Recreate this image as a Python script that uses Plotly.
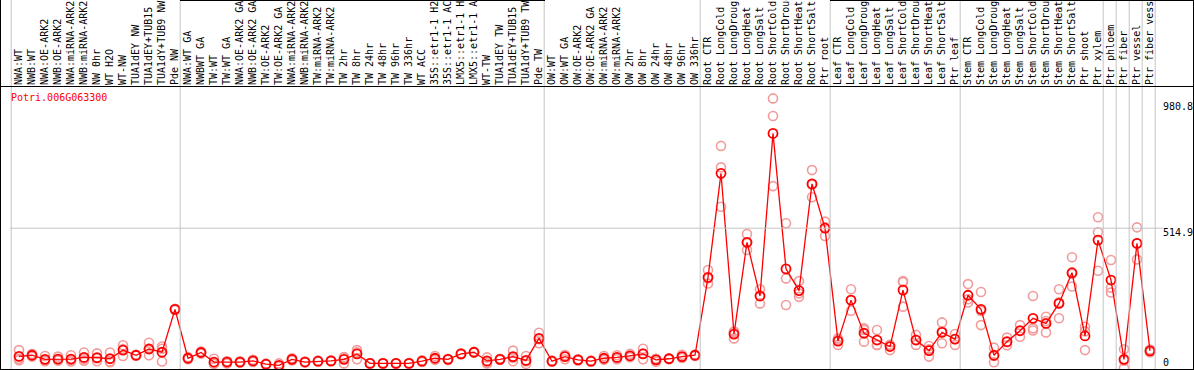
import plotly.graph_objects as go

gene = "Potri.006G063300"

labels = [
    # group 1
    "NWA:WT", "NWB:WT", "NWA:OE-ARK2", "NWB:OE-ARK2", "NWA:miRNA-ARK2", "NWB:miRNA-ARK2",
    "NW 0hr", "WT H2O", "WT-NW", "TUA1dEY NW", "TUA1dEY+TUB15 NW", "TUA1dY+TUB9 NW", "Pde NW",
    # group 2
    "NWA:WT GA", "NWBWT GA", "TW:WT", "TW:WT GA", "NWA:OE-ARK2 GA", "NWB:OE-ARK2 GA",
    "TW:OE-ARK2", "TW:OE-ARK2 GA", "NWA:miRNA-ARK2", "NWB:miRNA-ARK2", "TW:miRNA-ARK2", "TW:miRNA-ARK2",
    "TW 2hr", "TW 8hr", "TW 24hr", "TW 48hr", "TW 96hr", "TW 336hr", "WT ACC",
    "35S::etr1-1 H2O", "35S::etr1-1 ACC", "LMX5::etr1-1 H2O", "LMX5::etr1-1 ACC",
    "WT-TW", "TUA1dEY TW", "TUA1dEY+TUB15 TW", "TUA1dY+TUB9 TW", "Pde TW",
    # group 3
    "OW:WT", "OW:WT GA", "OW:OE-ARK2", "OW:OE-ARK2 GA", "OW:miRNA-ARK2", "OW:miRNA-ARK2",
    "OW 2hr", "OW 8hr", "OW 24hr", "OW 48hr", "OW 96hr", "OW 336hr",
    # group 4
    "Root CTR", "Root LongCold", "Root LongDrought", "Root LongHeat", "Root LongSalt",
    "Root ShortCold", "Root ShortDrought", "Root ShortHeat", "Root ShortSalt", "Ptr root",
    # group 5
    "Leaf CTR", "Leaf LongCold", "Leaf LongDrought", "Leaf LongHeat", "Leaf LongSalt",
    "Leaf ShortCold", "Leaf ShortDrought", "Leaf ShortHeat", "Leaf ShortSalt", "Ptr leaf",
    # group 6
    "Stem CTR", "Stem LongCold", "Stem LongDrought", "Stem LongHeat", "Stem LongSalt",
    "Stem ShortCold", "Stem ShortDrought", "Stem ShortHeat", "Stem ShortSalt", "Ptr shoot", "Ptr xylem",
    # singles
    "Ptr phloem", "Ptr fiber", "Ptr vessel", "Ptr fiber vessel",
]

group_sizes = [13, 28, 12, 10, 10, 11, 1, 1, 1, 1]

mean_vals = [
    43, 47, 32, 33, 33, 39, 38, 34, 66, 47, 70, 58, 216,
    36, 57, 22, 22, 22, 26, 14, 10, 32, 22, 25, 26, 32, 52, 17, 17, 17, 17, 25, 36, 32, 52, 58, 26, 32, 42, 28, 109,
    25, 42, 30, 25, 36, 39, 45, 52, 30, 34, 42, 47,
    334, 717, 125, 463, 265, 864, 365, 285, 678, 514.9,
    99, 250, 128, 103, 79, 287, 103, 64, 131, 106,
    268, 216, 47, 97, 137, 183, 164, 238, 351, 118, 471,
    324, 32, 459, 63,
]

rep1 = [
    66, 52, 44, 42, 47, 57, 54, 57, 84, 49, 93, 79, 218,
    40, 61, 34, 25, 25, 30, 16, 17, 36, 24, 27, 28, 40, 66, 18, 18, 18, 18, 28, 44, 34, 54, 60, 39, 34, 64, 44, 130,
    27, 48, 32, 27, 44, 47, 52, 71, 34, 36, 49, 50,
    361, 818, 134, 494, 290, 993, 533, 320, 729, 539.2,
    109, 290, 146, 140, 85, 320, 122, 81, 168, 125,
    309, 280, 75, 112, 158, 265, 189, 290, 408, 152, 555,
    398, 69, 518, 68,
]
rep2 = [
    34, 47, 27, 29, 28, 33, 35, 24, 70, 47, 70, 71, 216,
    36, 57, 17, 24, 22, 26, 14, 8, 32, 22, 25, 26, 39, 58, 17, 17, 17, 17, 25, 34, 32, 52, 58, 22, 32, 37, 25, 106,
    25, 46, 30, 25, 34, 38, 43, 53, 33, 34, 40, 47,
    330, 739, 133, 460, 268, 928, 330, 275, 675, 519.3,
    104, 250, 140, 85, 85, 316, 103, 69, 135, 107,
    253, 210, 44, 95, 139, 146, 173, 242, 346, 135, 500,
    296, 27, 459, 62,
]
rep3 = [
    29, 42, 25, 28, 24, 27, 25, 21, 44, 45, 47, 24, 214,
    32, 53, 15, 17, 19, 22, 12, 5, 28, 20, 23, 24, 17, 32, 16, 16, 16, 16, 22, 30, 30, 50, 56, 17, 30, 25, 15, 91,
    23, 32, 28, 23, 30, 32, 40, 32, 23, 32, 37, 44,
    311, 594, 109, 435, 238, 670, 232, 262, 629, 486.2,
    85, 211, 97, 85, 66, 226, 85, 42, 91, 85,
    241, 158, 21, 84, 115, 138, 131, 183, 300, 66, 358,
    278, 0, 400, 58,
]

axis_labels = ["980.8", "514.9", "0"]
axis_values = [980.8, 514.9, 0]

MONO = "DejaVu Sans Mono"
W, H = 1194, 370
L, R, T, B = 10, 38, 86, 1
PW, PH = W - L - R, H - T - B


def pxx(px):
    return (px - L) / PW


def pxy(py):
    return (H - B - py) / PH


n = len(labels)
xs = list(range(n))

fig = go.Figure()
for reps in (rep1, rep2, rep3):
    fig.add_trace(go.Scatter(
        x=xs, y=reps, mode="markers",
        marker=dict(symbol="circle-open", size=9, color="#f29b9b", line=dict(width=1.6)),
        hoverinfo="skip", showlegend=False))
fig.add_trace(go.Scatter(
    x=xs, y=mean_vals, mode="lines+markers",
    line=dict(color="#ff0000", width=1.3),
    marker=dict(symbol="circle-open", size=9, color="#ff0000", line=dict(width=1.8)),
    text=labels, showlegend=False))

shapes = []
# group separators
bounds = [0]
for g in group_sizes:
    bounds.append(bounds[-1] + g)
for k in bounds:
    shapes.append(dict(type="line", xref="x", yref="paper", x0=k - 0.6, x1=k - 0.6,
                       y0=0, y1=pxy(-2), line=dict(color="#c4c4c4", width=1)))
# horizontal reference line
shapes.append(dict(type="line", xref="paper", yref="y", x0=0, x1=pxx(1163),
                   y0=axis_values[1], y1=axis_values[1], line=dict(color="#c4c4c4", width=1)))
# black frame lines
blk = dict(color="#000000", width=1)
shapes += [
    dict(type="line", xref="paper", yref="paper", x0=pxx(0), x1=pxx(W), y0=pxy(86.5), y1=pxy(86.5), line=blk),
    dict(type="line", xref="paper", yref="paper", x0=pxx(0), x1=pxx(W), y0=pxy(369.5), y1=pxy(369.5), line=blk),
    dict(type="line", xref="paper", yref="paper", x0=pxx(0.5), x1=pxx(0.5), y0=pxy(0), y1=pxy(H), line=blk),
    dict(type="line", xref="paper", yref="paper", x0=pxx(1193.5), x1=pxx(1193.5), y0=pxy(0), y1=pxy(H), line=blk),
    dict(type="line", xref="paper", yref="paper", x0=pxx(180), x1=pxx(545), y0=pxy(0.5), y1=pxy(0.5), line=blk),
    dict(type="line", xref="paper", yref="paper", x0=pxx(830), x1=pxx(W), y0=pxy(0.5), y1=pxy(0.5), line=blk),
]

annotations = [
    dict(text=gene, xref="paper", yref="paper", x=pxx(9), y=pxy(97), xanchor="left", yanchor="middle",
         showarrow=False, font=dict(family=MONO, size=10, color="#ff0000")),
]
shifts = [-5, -4, 6]
for lab, val, sh in zip(axis_labels, axis_values, shifts):
    annotations.append(dict(text=lab, xref="paper", yref="y", x=pxx(1161), y=val, xanchor="left",
                            yanchor="middle", yshift=sh, showarrow=False,
                            font=dict(family=MONO, size=10, color="#000000")))

fig.update_layout(
    width=W, height=H,
    margin=dict(l=L, r=R, t=T, b=B, pad=0),
    paper_bgcolor="white", plot_bgcolor="white",
    shapes=shapes, annotations=annotations,
    xaxis=dict(range=[(L - 19) / 13, (W - R - 19) / 13], side="top", tickmode="array",
               tickvals=xs, ticktext=labels, tickangle=-90, ticks="",
               tickfont=dict(family=MONO, size=10, color="#000000"),
               showgrid=False, zeroline=False, showline=False, automargin=False),
    yaxis=dict(range=[(368 - (H - B)) / 0.2715, (368 - T) / 0.2715], showticklabels=False,
               showgrid=False, zeroline=False, showline=False, automargin=False),
)

fig.write_html("out.html", config={"displayModeBar": False},
               post_script="document.body.style.margin='0';document.body.style.overflow='hidden';")
